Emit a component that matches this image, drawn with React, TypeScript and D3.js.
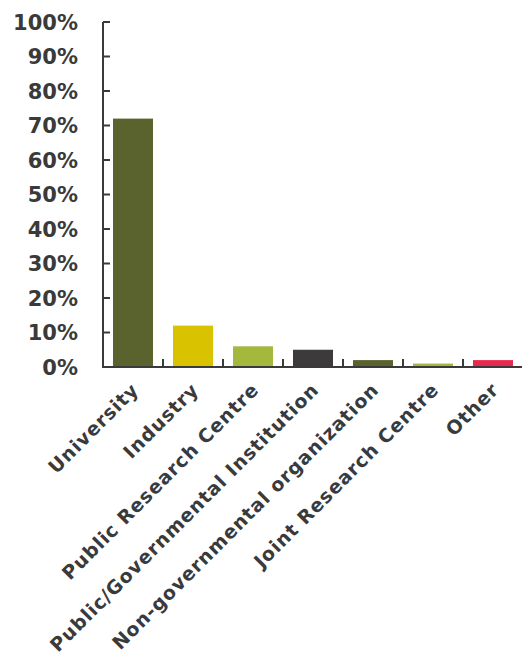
import React from "react";
import * as d3 from "d3";

const categories = [
  "University",
  "Industry",
  "Public Research Centre",
  "Public/Governmental Institution",
  "Non-governmental organization",
  "Joint Research Centre",
  "Other",
];
const values = [72, 12, 6, 5, 2, 1, 2];
const colors = ["#5a622d", "#d9c300", "#a3b83c", "#3d3a3b", "#5a622d", "#a3b83c", "#e8294f"];
const yTicks = [0, 10, 20, 30, 40, 50, 60, 70, 80, 90, 100];

const W = 522;
const H = 659;
const margin = { left: 103, right: -2, top: 22, bottom: 292 };
const FONT = "'DejaVu Sans', sans-serif";
const TEXT = "#3a3a3a";

export default function App() {
  const x = d3
    .scaleBand<string>()
    .domain(categories)
    .range([margin.left, margin.left + 60 * categories.length])
    .paddingInner(1 / 3)
    .paddingOuter(1 / 6);
  const y = d3.scaleLinear().domain([0, 100]).range([H - margin.bottom, margin.top]);
  const y0 = y(0);
  const step = x.step();
  const bounds = categories.slice(1).map((c) => (x(c) as number) - x.paddingInner() * step / 2);

  return (
    <svg width={W} height={H} style={{ position: "absolute", left: 0, top: 0, background: "#fff" }}>
      {categories.map((c, i) => (
        <rect
          key={c}
          x={x(c)}
          y={y(values[i])}
          width={x.bandwidth()}
          height={y0 - y(values[i])}
          fill={colors[i]}
        />
      ))}
      {/* y axis */}
      <line x1={margin.left} x2={margin.left} y1={y(100)} y2={y0} stroke="#3a3a3a" strokeWidth={2} />
      {yTicks.map((t) => (
        <g key={t}>
          <line x1={margin.left} x2={margin.left + 7} y1={y(t)} y2={y(t)} stroke="#3a3a3a" strokeWidth={2} />
          <text
            x={78}
            y={y(t)}
            dy="0.36em"
            textAnchor="end"
            fontFamily={FONT}
            fontWeight="bold"
            fontSize={21}
            fill={TEXT}
          >
            {t}%
          </text>
        </g>
      ))}
      {/* x axis */}
      <line x1={margin.left - 1} x2={W} y1={y0} y2={y0} stroke="#3a3a3a" strokeWidth={2} />
      {bounds.map((b, i) => (
        <line key={i} x1={b} x2={b} y1={y0} y2={y0 - 8} stroke="#3a3a3a" strokeWidth={2} />
      ))}
      {categories.map((c) => {
        const cx = (x(c) as number) + x.bandwidth() / 2 + 7;
        const cy = y0 + 24;
        return (
          <text
            key={c}
            transform={`translate(${cx},${cy}) rotate(-45)`}
            textAnchor="end"
            fontFamily={FONT}
            fontWeight="bold"
            fontSize={19}
            letterSpacing={0.9}
            fill={TEXT}
          >
            {c}
          </text>
        );
      })}
    </svg>
  );
}
